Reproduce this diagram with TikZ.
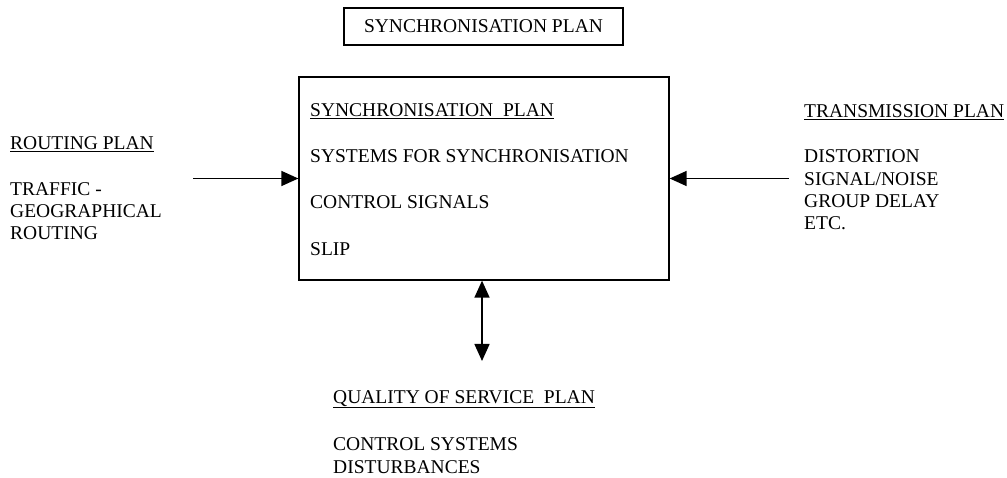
\documentclass[tikz,border=0pt]{standalone}
\usepackage{fontspec}
\setmainfont{Liberation Serif}
\usetikzlibrary{arrows.meta}
\begin{document}
\begin{tikzpicture}[x=1pt,y=-1pt,
  txt/.style={anchor=base west,inner sep=0pt,font=\fontsize{19.5}{22}\selectfont},
  frame/.style={draw,line width=1.3pt},
  link/.style={line width=1.5pt,-{Triangle[length=17pt,width=15pt]}},
  both/.style={line width=1.5pt,{Triangle[length=17pt,width=15pt]}-{Triangle[length=17pt,width=15pt]}}]
\useasboundingbox (0,0) rectangle (1007,478);

% title box
\node[frame,minimum width=279pt,minimum height=37pt,inner sep=0pt,
      font=\fontsize{19.5}{22}\selectfont] (title) at (483.5,26.5) {SYNCHRONISATION PLAN};

% central box
\node[frame,minimum width=370pt,minimum height=203pt,inner sep=0pt] (main) at (484,178.5) {};
\node[txt] (m1) at (310,117) {\underline{SYNCHRONISATION\ \ PLAN}};
\node[txt] (m2) at (310,163) {SYSTEMS FOR SYNCHRONISATION};
\node[txt] (m3) at (310,209) {CONTROL SIGNALS};
\node[txt] (m4) at (310,256) {SLIP};

% routing plan
\node[txt] (r1) at (10,150) {\underline{ROUTING PLAN}};
\node[txt] (r2) at (10,196) {TRAFFIC -};
\node[txt] (r3) at (10,218) {GEOGRAPHICAL};
\node[txt] (r4) at (10,240) {ROUTING};

% transmission plan
\node[txt] (t1) at (804,118) {\underline{TRANSMISSION PLAN}};
\node[txt] (t2) at (804,163) {DISTORTION};
\node[txt] (t3) at (804,185.5) {SIGNAL/NOISE};
\node[txt] (t4) at (804,208) {GROUP DELAY};
\node[txt] (t5) at (804,230) {ETC.};

% quality of service plan
\node[txt] (q1) at (333,403) {\underline{QUALITY OF SERVICE\ \ PLAN}};
\node[txt] (q2) at (333,450) {CONTROL SYSTEMS};
\node[txt] (q3) at (333,473) {DISTURBANCES};

% connectors
\coordinate (rin) at (193,178.5);
\coordinate (tin) at (789,178.5);
\coordinate (qend) at (482,361);
\draw[link] (rin) -- (main.west);
\draw[link] (tin) -- (main.east);
\draw[both] (main.south -| qend) -- (qend);
\end{tikzpicture}
\end{document}
